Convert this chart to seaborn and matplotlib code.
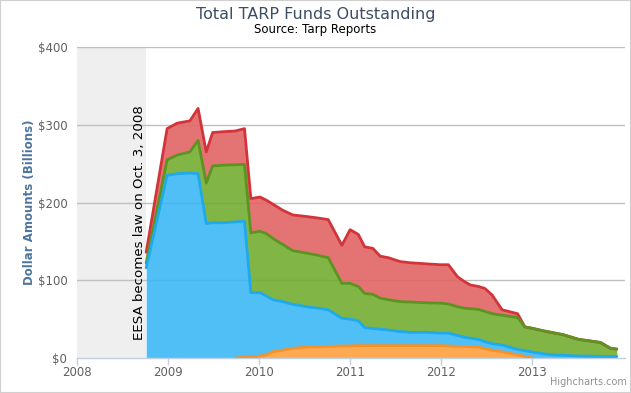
import numpy as np
import pandas as pd
import matplotlib
matplotlib.use("Agg")
import matplotlib.pyplot as plt
import seaborn as sns
from matplotlib.patches import Rectangle

# ---- data (billions of dollars, per program layer) ----
dates = [2008.76, 2008.99, 2009.10, 2009.24, 2009.33, 2009.42, 2009.49, 2009.60,
         2009.74, 2009.84, 2009.91, 2010.01, 2010.08, 2010.15, 2010.26, 2010.37,
         2010.52, 2010.65, 2010.76, 2010.91, 2011.00, 2011.09, 2011.16, 2011.25,
         2011.33, 2011.42, 2011.55, 2011.66, 2011.85, 2011.99, 2012.08, 2012.18,
         2012.26, 2012.32, 2012.41, 2012.48, 2012.56, 2012.67, 2012.84, 2012.92,
         2013.01, 2013.12, 2013.23, 2013.34, 2013.51, 2013.75, 2013.86, 2013.93]
orange = [0, 0, 0, 0, 0, 0, 0, 0,
          0, 1, 1.5, 2.5, 4, 8, 10, 12.5,
          14, 14.5, 15, 15.5, 15.5, 16, 16, 16,
          16, 16, 16, 16, 16, 16, 15.5, 15,
          15, 14.5, 14, 12, 10, 8, 4, 2,
          0, 0, 0, 0, 0, 0, 0, 0]
blue = [116, 235, 237, 238, 237, 173, 174, 174,
        175, 175, 82.5, 81.5, 76, 67, 62.5, 56.5,
        52, 49.5, 47, 35.5, 34.5, 32, 23, 22,
        21, 20, 18, 17, 17, 16, 16.5, 14,
        11.6, 11, 10, 9, 8.5, 8.7, 7, 7.4,
        7.5, 5.5, 4, 3.5, 2.6, 2.2, 2, 2]
green = [6, 20, 24, 27, 43, 52, 73, 74,
         73.5, 73, 77, 79, 80, 79, 73.5, 69,
         69, 68, 67, 45, 46, 44, 44, 44,
         40, 39, 38.5, 39, 38, 38.5, 37.5, 37,
         37.4, 38, 38.5, 39, 38.5, 38.3, 41, 30.6,
         30.5, 29.5, 28.5, 26.5, 21.4, 17.8, 10.5, 9.5]
red = [14, 40, 41, 40, 41, 40, 43, 43,
       43.5, 46, 44, 44, 43, 44, 44, 46,
       47, 48, 49, 49, 69, 67, 60, 59,
       54, 54, 51.5, 50.5, 50, 49.5, 50.5, 38.5,
       34, 30.5, 29.5, 29.5, 24, 7, 5, 0,
       0, 0, 0, 0, 0, 0, 0, 0]

year_ticks = [2008, 2009, 2010, 2011, 2012, 2013]
y_ticks = [0, 100, 200, 300, 400]
y_labels = ["$0", "$100", "$200", "$300", "$400"]

names = ["orange", "blue", "green", "red"]
fill_colors = ["#FFA040", "#3DB8F5", "#73AD32", "#E26465"]
line_colors = ["#F5922A", "#1EAAEB", "#5C9420", "#D3343A"]

sns.set_theme(style="white")
plt.rcParams["font.family"] = ["DejaVu Sans"]

fig = plt.figure(figsize=(6.31, 3.93), dpi=100)
ax = fig.add_axes([77 / 631, 1 - 358 / 393, (625 - 77) / 631, (358 - 47) / 393])

x = np.array(dates)
layers = np.vstack([orange, blue, green, red])
cum = np.cumsum(layers, axis=0)

# plot band
ax.axvspan(2008, 2008.76, color="#EFEFEF", zorder=0, lw=0)
# grid
for yv in y_ticks[1:]:
    ax.axhline(yv, color="#C0C0C0", lw=1, zorder=1)

ax.stackplot(x, layers, colors=fill_colors, alpha=0.9, lw=0, zorder=2)

df = pd.DataFrame({"date": np.tile(x, 4),
                   "top": cum.ravel(),
                   "series": np.repeat(names, len(x))})
# orange top line only where the orange series is present
omask = np.array(orange) > 0
omask = omask | np.roll(omask, 1) | np.roll(omask, -1)
# draw upper series first so lower-series edges lie on top
for i in [3, 2, 1, 0]:
    sub = df[df.series == names[i]].copy()
    if names[i] == "orange":
        sub = sub[omask]
    sns.lineplot(data=sub, x="date", y="top", color=line_colors[i], lw=2,
                 ax=ax, zorder=3 + (3 - i) * 0.1, legend=False)

ax.set_xlim(2008, 2014.02)
ax.set_ylim(0, 400)
ax.set_xticks(year_ticks)
ax.set_xticklabels([str(y) for y in year_ticks], color="#606060", fontsize=8.5)
ax.set_yticks(y_ticks)
ax.set_yticklabels(y_labels, color="#606060", fontsize=8.5)
ax.set_xlabel("")
ax.set_ylabel("Dollar Amounts (Billions)", color="#4D759E", fontsize=8.5,
              fontweight="bold", labelpad=1)
for s in ["top", "right", "left"]:
    ax.spines[s].set_visible(False)
ax.spines["bottom"].set_color("#C0D0E0")
ax.spines["bottom"].set_linewidth(1)
ax.tick_params(axis="x", which="both", bottom=True, length=5, width=1,
               color="#C0D0E0", pad=1)
ax.tick_params(axis="y", length=0, pad=7)

ax.text(2008.69, 23, "EESA becomes law on Oct. 3, 2008", rotation=90,
        ha="center", va="bottom", fontsize=9.6, color="black", zorder=4)

fig.text(0.5, 1 - 14 / 393, "Total TARP Funds Outstanding", ha="center",
         va="center", fontsize=11.5, color="#3E4D66")
fig.text(0.5, 1 - 29 / 393, "Source: Tarp Reports", ha="center", va="center",
         fontsize=8.5, color="black")
fig.text(1 - 4 / 631, 1 - 382 / 393, "Highcharts.com", ha="right", va="center",
         fontsize=7, color="#909090")

fig.patches.append(Rectangle((0, 0), 1, 1, transform=fig.transFigure,
                             fill=False, edgecolor="#D0D0D0", lw=1.5))

fig.savefig("out.png", dpi=100)
